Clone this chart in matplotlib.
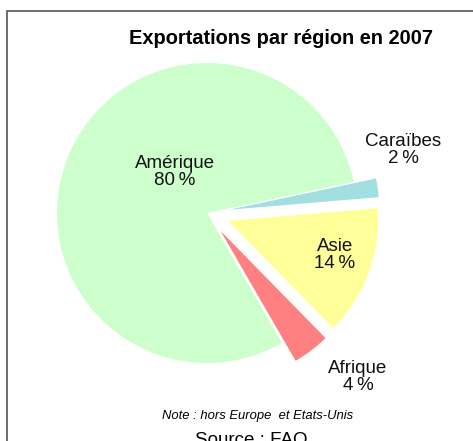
import matplotlib
matplotlib.use("Agg")
import matplotlib.pyplot as plt
from matplotlib.patches import Rectangle

plt.rcParams["font.family"] = ["Liberation Sans", "DejaVu Sans"]

regions = ["Amérique", "Caraïbes", "Asie", "Afrique"]
shares = [80, 2, 14, 4]
colors = ["#CCFFCC", "#A2DFE0", "#FFFF99", "#FF8080"]
exploded = [0, 1, 1, 1]

W, H = 473, 441
fig = plt.figure(figsize=(W / 100, H / 100), dpi=100)
fig.patch.set_facecolor("white")
ax = fig.add_axes([0, 0, 1, 1])

# work in pixel units, y measured from the bottom
radius = 150
center = (207, H - 213)
explode = [0.15 * radius * e for e in exploded]

wedges, _ = ax.pie(shares, colors=colors, explode=explode, radius=radius,
                   center=center, startangle=300, counterclock=False,
                   wedgeprops={"linewidth": 0})

# label positions (pixels from top-left), Excel places them freely
label_pos = [(175, 172), (403, 150), (335, 255), (358, 377)]
for name, val, (lx, ly) in zip(regions, shares, label_pos):
    ax.text(lx, H - ly, f"{name}\n{val}\u2009%", ha="center", va="center",
            fontsize=13.5, linespacing=1.05, color="#111111")

ax.set_xlim(0, W)
ax.set_ylim(0, H)
ax.set_aspect("equal")
ax.axis("off")

fig.text(281 / W, 1 - 39 / H, "Exportations par région en 2007",
         ha="center", va="center", fontsize=14.4, fontweight="bold")
fig.text(258 / W, 1 - 416 / H, "Note : hors Europe  et Etats-Unis",
         ha="center", va="center", fontsize=9.4, style="italic")
fig.text(251 / W, 1 - 432 / H, "Source : FAO",
         ha="center", va="top", fontsize=13.5)

# chart frame, cut off on the right and bottom
fig.patches.append(Rectangle((7 / W, -0.1), 1.2, 1 - 11 / H + 0.1,
                             transform=fig.transFigure, fill=False,
                             edgecolor="#555555", linewidth=1.2))

fig.savefig("out.png", dpi=100, facecolor=fig.get_facecolor())
